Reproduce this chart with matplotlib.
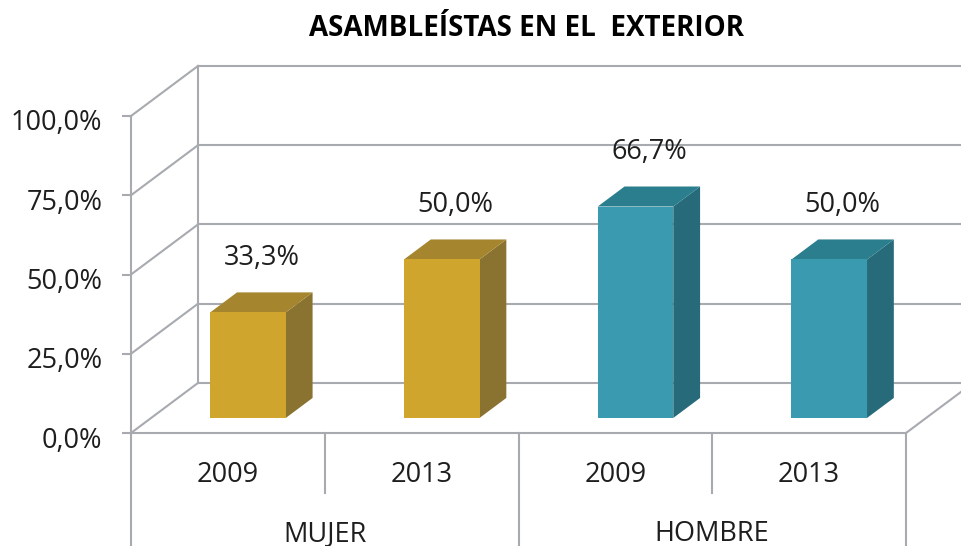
import matplotlib.pyplot as plt
from matplotlib.patches import Polygon
from matplotlib.transforms import ScaledTranslation

plt.rcParams['font.family'] = ['Open Sans', 'DejaVu Sans']

# data
groups = ['MUJER', 'HOMBRE']
years = ['2009', '2013', '2009', '2013']
values = [33.3, 50.0, 66.7, 50.0]
bar_group = [0, 0, 1, 1]
yticks = [0, 25, 50, 75, 100]

front_cols = ['#D0A52E', '#3A9AAF']
side_cols = ['#8A7230', '#276B7B']
top_cols = ['#A5862F', '#2A7E8E']
grid_col = '#A7AAAF'
text_col = '#1E1E1E'

# fake 3D depth offset, in data units of the front plane
kx, ky = 0.346, 15.8
d0, d1 = 0.3, 0.7
half_w = 0.195


def proj(x, d, h):
    return (x + d * kx, h + d * ky)


fig = plt.figure(figsize=(9.62, 5.46), dpi=100)
ax = fig.add_axes([131 / 962, 1 - 433 / 546, 775 / 962, 317 / 546])
ax.set_xlim(0, 4)
ax.set_ylim(0, 100)
ax.patch.set_visible(False)
for s in ['top', 'right', 'bottom']:
    ax.spines[s].set_visible(False)
ax.spines['left'].set_color(grid_col)
ax.spines['left'].set_linewidth(1.5)
ax.set_xticks([])
ax.set_yticks(yticks)
ax.set_yticklabels([f'{t:.1f}%'.replace('.', ',') for t in yticks])
ax.tick_params(axis='y', length=6.5, width=1.5, color=grid_col, pad=14,
               labelsize=19.5, labelcolor=text_col)
shift = ScaledTranslation(0, -4 / 100, fig.dpi_scale_trans)
for lab in ax.get_yticklabels():
    lab.set_transform(lab.get_transform() + shift)

lw = 1.5
n = len(values)
# walls: back gridlines and side diagonals
for t in yticks:
    bx, by = proj(0, 1, t)
    ax.plot([bx, n + kx + 1], [by, by], color=grid_col, lw=lw, clip_on=False, zorder=1)
    ax.plot([0, bx], [t, by], color=grid_col, lw=lw, clip_on=False, zorder=1)
bx0, by0 = proj(0, 1, 0)
ax.plot([bx0, bx0], [by0, by0 + 100], color=grid_col, lw=lw, clip_on=False, zorder=1)
# floor
ax.plot([0, n], [0, 0], color=grid_col, lw=lw, clip_on=False, zorder=1)
fx, fy = proj(n, 1, 0)
ax.plot([n, fx], [0, fy], color=grid_col, lw=lw, clip_on=False, zorder=1)

# bars
for i, (v, g) in enumerate(zip(values, bar_group)):
    x0, x1 = i + 0.5 - half_w, i + 0.5 + half_w
    front = [proj(x0, d0, 0), proj(x1, d0, 0), proj(x1, d0, v), proj(x0, d0, v)]
    side = [proj(x1, d0, 0), proj(x1, d1, 0), proj(x1, d1, v), proj(x1, d0, v)]
    top = [proj(x0, d0, v), proj(x1, d0, v), proj(x1, d1, v), proj(x0, d1, v)]
    for pts, c in [(side, side_cols[g]), (top, top_cols[g]), (front, front_cols[g])]:
        ax.add_patch(Polygon(pts, closed=True, facecolor=c, edgecolor='none',
                             zorder=3, clip_on=False))
    lx, ly = proj(i + 0.5, 0.5, v)
    ax.text(lx, ly + 14, f'{v:.1f}%'.replace('.', ','), ha='center', va='center',
            fontsize=19.5, color=text_col, zorder=4)

# category axis below the floor
for i in range(n + 1):
    y_end = -19 if i % 2 == 1 else -45
    ax.plot([i, i], [0, y_end], color=grid_col, lw=lw, clip_on=False, zorder=1)
for i, y in enumerate(years):
    ax.text(i + 0.5, -13.2, y, ha='center', va='center', fontsize=19.5, color=text_col)
for j, g in enumerate(groups):
    ax.text(2 * j + 1, -31.8, g, ha='center', va='center', fontsize=19.5, color=text_col)

fig.text(527 / 962, 1 - 28 / 546, 'ASAMBLEÍSTAS EN EL  EXTERIOR', ha='center',
         va='center', fontsize=20, fontweight='bold', color='black')

fig.savefig('out.png', dpi=100)
